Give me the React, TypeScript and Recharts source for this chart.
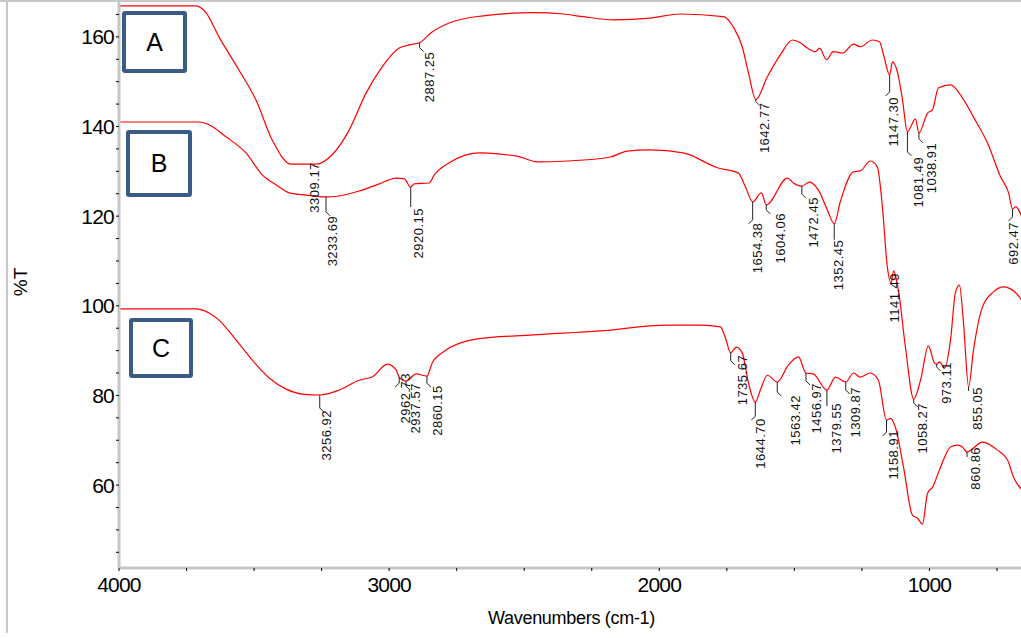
import React from 'react';
import { ComposedChart, Line, Scatter, XAxis, YAxis } from 'recharts';

// spectrum A
const WN_A = [4000, 3715, 3678, 3630, 3556, 3493, 3433, 3363, 3309.17, 3270, 3211, 3148, 3085, 3026, 2963, 2926, 2887.25, 2841, 2778, 2652, 2467, 2356, 2281, 2170, 2033, 1922, 1763, 1726, 1693, 1670, 1642.77, 1600, 1552, 1507, 1478, 1452, 1422, 1407, 1381, 1356, 1322, 1281, 1256, 1211, 1185, 1170, 1147.3, 1137, 1118, 1100, 1081.49, 1052, 1038.91, 1007, 989, 967, 922, 878, 837, 785, 737, 707, 692.47, 681, 650];
const T_A = [166.9, 166.9, 165.4, 160.0, 152.6, 145.9, 137.0, 131.6, 131.6, 131.6, 133.7, 139.2, 147.5, 153.3, 157.5, 158.2, 158.7, 161.1, 163.1, 164.7, 165.4, 165.1, 164.5, 163.8, 164.2, 165.1, 164.5, 162.2, 157.8, 152.0, 146.0, 151.1, 156.0, 159.3, 158.7, 157.5, 156.7, 157.5, 154.9, 156.7, 156.4, 158.4, 157.8, 159.3, 158.9, 156.0, 151.5, 154.4, 152.0, 146.0, 138.8, 141.7, 138.6, 143.0, 143.7, 148.6, 149.3, 146.4, 142.1, 136.3, 128.8, 125.2, 121.6, 122.1, 118.3];

// spectrum B
const WN_B = [4000, 3704, 3667, 3604, 3530, 3470, 3419, 3370, 3307, 3233.69, 3185, 3111, 3037, 2974, 2944, 2920.15, 2907, 2852, 2833, 2778, 2663, 2600, 2526, 2452, 2341, 2181, 2119, 2033, 1911, 1785, 1707, 1681, 1654.38, 1622, 1604.06, 1526, 1504, 1472.45, 1444, 1411, 1378, 1352.45, 1330, 1281, 1256, 1219, 1193, 1174, 1156, 1141.49, 1133, 1115, 1089, 1058.27, 1033, 1004, 981, 973.11, 963, 944, 922, 904, 889, 874, 855.05, 837, 804, 763, 726, 681, 650];
const T_B = [141.0, 141.0, 140.4, 137.7, 134.1, 129.2, 127.0, 125.2, 124.7, 124.3, 124.5, 125.6, 127.2, 128.5, 128.3, 126.5, 127.2, 127.4, 129.2, 131.9, 134.1, 133.9, 133.4, 132.1, 132.3, 133.2, 134.5, 134.8, 134.1, 130.8, 129.6, 126.5, 123.2, 125.2, 122.5, 128.5, 127.4, 126.7, 127.6, 125.8, 121.4, 118.3, 123.2, 129.9, 130.1, 132.3, 131.0, 122.0, 108.7, 105.1, 107.8, 103.5, 90.8, 79.2, 83.4, 91.0, 87.2, 87.0, 87.5, 86.1, 92.4, 102.9, 104.6, 96.2, 81.9, 90.1, 99.7, 103.1, 104.2, 102.9, 100.5];

// spectrum C
const WN_C = [4000, 3715, 3667, 3630, 3567, 3507, 3444, 3381, 3322, 3256.92, 3185, 3111, 3063, 3007, 2974, 2962.73, 2937.57, 2900, 2860.15, 2841, 2800, 2674, 2467, 2219, 1970, 1848, 1774, 1756, 1735.67, 1715, 1693, 1670, 1644.7, 1626, 1600, 1563.42, 1522, 1485, 1456.97, 1430, 1379.55, 1348, 1309.87, 1281, 1256, 1219, 1189, 1158.91, 1144, 1126, 1096, 1063, 1044, 1026, 1007, 989, 959, 922, 896, 878, 860.86, 804, 748, 711, 689, 650];
const T_C = [99.3, 99.3, 98.4, 96.8, 92.4, 87.9, 83.9, 81.4, 80.3, 80.1, 81.2, 83.4, 84.1, 87.0, 85.7, 84.1, 83.2, 84.8, 84.3, 87.2, 89.7, 92.6, 93.5, 94.4, 95.7, 95.7, 95.3, 93.0, 89.5, 90.8, 89.5, 82.8, 78.5, 81.2, 84.5, 83.0, 86.8, 88.6, 85.0, 84.8, 81.2, 84.1, 83.0, 85.0, 84.1, 85.0, 83.4, 74.5, 74.9, 72.9, 64.0, 53.3, 52.6, 51.3, 58.2, 59.5, 64.0, 68.5, 68.9, 68.5, 67.4, 69.6, 67.8, 65.6, 61.8, 58.5];

// picked peaks (cm-1)
const PEAKS_A = [3309.17, 2887.25, 1642.77, 1147.3, 1081.49, 1038.91, 692.47];
const PEAKS_B = [3233.69, 2920.15, 1654.38, 1604.06, 1472.45, 1352.45, 1141.49, 1058.27, 973.11, 855.05];
const PEAKS_C = [3256.92, 2962.73, 2937.57, 2860.15, 1735.67, 1644.7, 1563.42, 1456.97, 1379.55, 1309.87, 1158.91, 860.86];

// label placement in px: [text dx, text dy, leader length, leader bend]
const NUDGE_A = [[9, -2, 0, 0], [10, 9, 5, 1], [9, 3, 2, 1], [4, 22, 17, -1], [11, 25, 20, 1], [13, 10, 6, 1], [1, 13, 8, -1]];
const NUDGE_B = [[6, 19, 15, 1], [8, 21, 20, 0], [5, 21, 18, -1], [14, 8, 5, 1], [12, 11, 8, 1], [4, 16, 16, 0], [3, -10, 0, 0], [9, 4, 4, 1], [10, -2, 3, 1], [9, 0, 4, 0]];
const NUDGE_C = [[7, 15, 13, 1], [6, -4, 6, -1], [9, 2, 5, 1], [11, 9, 7, 1], [12, 2, 8, 1], [5, 16, 14, -1], [18, 13, 10, 1], [11, 10, 8, 1], [10, 13, 16, 0], [10, 5, 8, 1], [7, 10, 12, -1], [8, -5, 5, 0]];

const X_TICKS = [4000, 3750, 3500, 3250, 3000, 2750, 2500, 2250, 2000, 1750, 1500, 1250, 1000, 750];
const Y_TICKS = [45, 50, 55, 60, 65, 70, 75, 80, 85, 90, 95, 100, 105, 110, 115, 120, 125, 130, 135, 140, 145, 150, 155, 160, 165];

const FONT = '"Liberation Sans", Arial, sans-serif';
const RED = '#ff0000';
const BOX = '#3b5b87';

const toRows = (wns: number[], ts: number[]) => wns.map((wn, i) => ({ wn, t: ts[i] }));

const valueAt = (wns: number[], ts: number[], w: number) => {
  for (let i = 0; i < wns.length - 1; i++) {
    if (wns[i] >= w && wns[i + 1] <= w) {
      const f = (wns[i] - w) / (wns[i] - wns[i + 1]);
      return ts[i] + f * (ts[i + 1] - ts[i]);
    }
  }
  return ts[ts.length - 1];
};

const peakRows = (peaks: number[], nudges: number[][], wns: number[], ts: number[]) =>
  peaks.map((wn, i) => ({ wn, t: valueAt(wns, ts, wn), label: wn.toFixed(2), nudge: nudges[i] }));

const rowsA = toRows(WN_A, T_A);
const rowsB = toRows(WN_B, T_B);
const rowsC = toRows(WN_C, T_C);
const peaksA = peakRows(PEAKS_A, NUDGE_A, WN_A, T_A);
const peaksB = peakRows(PEAKS_B, NUDGE_B, WN_B, T_B);
const peaksC = peakRows(PEAKS_C, NUDGE_C, WN_C, T_C);

const PeakMark = (props: any) => {
  const { cx, cy, payload } = props;
  if (cx == null || cy == null) return null;
  const [dx, dy, lead, bend] = payload.nudge;
  const d = bend === 0 ? `M${cx},${cy} v${lead}` : `M${cx},${cy} v${lead} l${bend * 4},4`;
  return (
    <g>
      {lead > 0 && <path d={d} stroke="#222" strokeWidth={1} fill="none" />}
      <text
        x={0}
        y={0}
        transform={`translate(${cx + dx},${cy + dy}) rotate(-90)`}
        textAnchor="end"
        dominantBaseline="central"
        fontFamily={FONT}
        fontSize={13}
        letterSpacing={0.5}
        fill="#111"
      >
        {payload.label}
      </text>
    </g>
  );
};

const TagBox = ({ left, top, w, h, text }: { left: number; top: number; w: number; h: number; text: string }) => (
  <div
    style={{
      position: 'absolute',
      left,
      top,
      width: w,
      height: h,
      boxSizing: 'border-box',
      border: `4px solid ${BOX}`,
      borderRadius: 3,
      background: '#fff',
      display: 'flex',
      alignItems: 'center',
      justifyContent: 'center',
      fontFamily: FONT,
      fontSize: 25,
      color: '#000',
    }}
  >
    {text}
  </div>
);

const tickStyle = { fontFamily: FONT, fontSize: 21, fill: '#000', letterSpacing: -0.8 };

export default function App() {
  return (
    <div style={{ position: 'absolute', left: 0, top: 0, width: 1021, height: 638, overflow: 'hidden', background: '#fff' }}>
      <ComposedChart width={1030} height={638} margin={{ top: 1, right: 6, bottom: 0, left: 0 }}>
        <XAxis
          type="number"
          dataKey="wn"
          domain={[650, 4000]}
          reversed
          allowDataOverflow
          ticks={X_TICKS}
          interval={0}
          tickFormatter={(v: number) => (v % 1000 === 0 ? String(v) : '')}
          tick={tickStyle}
          tickSize={3}
          tickMargin={6}
          tickLine={{ stroke: '#000' }}
          axisLine={{ stroke: '#c6c6c6', strokeWidth: 3 }}
          height={70}
          label={{ value: 'Wavenumbers (cm-1)', position: 'insideBottom', offset: 14, style: { fontFamily: FONT, fontSize: 18, fill: '#000', letterSpacing: -0.3 } }}
        />
        <YAxis
          type="number"
          domain={[41.5, 168]}
          allowDataOverflow
          ticks={Y_TICKS}
          interval={0}
          tickFormatter={(v: number) => (v % 20 === 0 ? String(v) : '')}
          tick={tickStyle}
          tickSize={3}
          tickMargin={2}
          tickLine={{ stroke: '#000' }}
          axisLine={{ stroke: '#c6c6c6', strokeWidth: 3 }}
          width={119}
        />
        <Line data={rowsA} dataKey="t" type="monotone" stroke={RED} strokeWidth={1.2} dot={false} isAnimationActive={false} />
        <Line data={rowsB} dataKey="t" type="monotone" stroke={RED} strokeWidth={1.2} dot={false} isAnimationActive={false} />
        <Line data={rowsC} dataKey="t" type="monotone" stroke={RED} strokeWidth={1.2} dot={false} isAnimationActive={false} />
        <Scatter data={peaksA} dataKey="t" shape={PeakMark} isAnimationActive={false} />
        <Scatter data={peaksB} dataKey="t" shape={PeakMark} isAnimationActive={false} />
        <Scatter data={peaksC} dataKey="t" shape={PeakMark} isAnimationActive={false} />
      </ComposedChart>

      <div
        style={{
          position: 'absolute',
          left: 21,
          top: 282,
          transform: 'translate(-50%, -50%) rotate(-90deg)',
          fontFamily: FONT,
          fontSize: 19,
          color: '#000',
          whiteSpace: 'nowrap',
        }}
      >
        %T
      </div>

      {/* frame edges */}
      <div style={{ position: 'absolute', left: 0, top: 0, width: 1021, height: 2, background: '#c8c8c8' }} />
      <div style={{ position: 'absolute', left: 6, top: 0, width: 2, height: 633, background: '#c8c8c8' }} />

      <TagBox left={122} top={11} w={65} h={62} text="A" />
      <TagBox left={126} top={130} w={66} h={67} text="B" />
      <TagBox left={129} top={318} w={64} h={60} text="C" />
    </div>
  );
}
